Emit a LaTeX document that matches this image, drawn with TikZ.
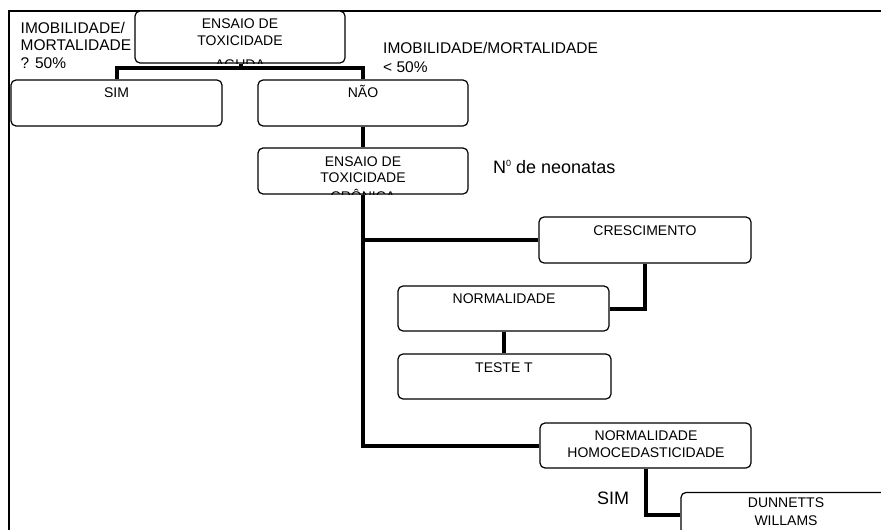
\documentclass[tikz,border=0pt]{standalone}
\usepackage{fontspec}
\setmainfont{Liberation Sans}
\begin{document}
\begin{tikzpicture}[x=1pt,y=-1pt,
  box/.style={draw, fill=white, line width=1.2pt, rounded corners=5pt, minimum width=210pt, minimum height=45pt, inner sep=0pt},
  conn/.style={line width=4pt},
  bt/.style={font=\fontsize{14}{17}\selectfont, inner sep=0pt, anchor=base},
  lbl/.style={font=\fontsize{15.5}{18}\selectfont, inner sep=0pt, anchor=base west},
  big/.style={font=\fontsize{18}{21}\selectfont, inner sep=0pt, anchor=base west}]
\useasboundingbox (0,0) rectangle (881,530);
\clip (0,0) rectangle (881,530);
% outer frame
\draw[line width=2pt] (9.3,545) -- (9.3,11) -- (895,11);

% boxes
\node[box, minimum height=52pt] (acute) at (240,37) {};
\node[box, minimum width=211pt, minimum height=46pt] (sim) at (116.5,103) {};
\node[box, minimum height=46pt] (nao) at (363,103) {};
\node[box, minimum height=46pt] (cron) at (363,171) {};
\node[box, minimum width=212pt, minimum height=46pt] (cresc) at (645,240) {};
\node[box, minimum width=211pt] (norm) at (503.5,308.5) {};
\node[box, minimum width=213pt] (teste) at (504.5,376.5) {};
\node[box, minimum width=211pt] (nh) at (645.5,445.5) {};
\node[box] (dunn) at (786,515) {};

% connectors
\coordinate (j1) at (241,68);
\draw[conn] (acute.south -| j1) -- (j1);
\draw[conn] (sim.north) |- (j1) -| (nao.north);
\draw[conn] (nao.south) -- (cron.north);
\draw[conn] (cron.south) |- (nh.west);
\draw[conn] (cron.south |- cresc.west) -- (cresc.west);
\draw[conn] (cresc.south) |- (norm.east);
\draw[conn] (norm.south) -- (norm.south |- teste.north);
\draw[conn] (nh.south) |- (dunn.west);

% box texts (clipped where they overflow)
\begin{scope}
\clip (acute.south west) rectangle (acute.north east);
\node[bt] (acute1) at (240,28) {ENSAIO DE};
\node[bt] (acute2) at (240,45) {TOXICIDADE};
\node[bt] (acute3) at (240,69) {AGUDA};
\end{scope}
\begin{scope}
\clip (cron.south west) rectangle (cron.north east);
\node[bt] (cron1) at (363,166) {ENSAIO DE};
\node[bt] (cron2) at (363,182) {TOXICIDADE};
\node[bt] (cron3) at (363,201) {CRÔNICA};
\end{scope}
\node[bt] (simt) at (116.5,97) {SIM};
\node[bt] (naot) at (363,97) {NÃO};
\node[bt] (cresct) at (645,235) {CRESCIMENTO};
\node[bt] (normt) at (504,303) {NORMALIDADE};
\node[bt] (testet) at (504,372) {TESTE T};
\node[bt] (nh1) at (646,440) {NORMALIDADE};
\node[bt] (nh2) at (646,457.5) {HOMOCEDASTICIDADE};
\node[bt] (dunn1) at (786,507) {DUNNETTS};
\node[bt] (dunn2) at (786,525) {WILLAMS};

% free labels
\node[lbl] (l1) at (20.5,33) {IMOBILIDADE/};
\node[lbl] (l2) at (20.5,50) {MORTALIDADE};
\node[lbl] (l3) at (20.5,68) {? 50\%};
\node[lbl] (r1) at (383,53) {IMOBILIDADE/MORTALIDADE};
\node[lbl] (r2) at (383,72) {< 50\%};
\node[big] (neo) at (493,173) {N\raisebox{6.5pt}{\fontsize{9}{9}\selectfont 0} de neonatas};
\node[big] (simlbl) at (597,504) {SIM};
\end{tikzpicture}
\end{document}
